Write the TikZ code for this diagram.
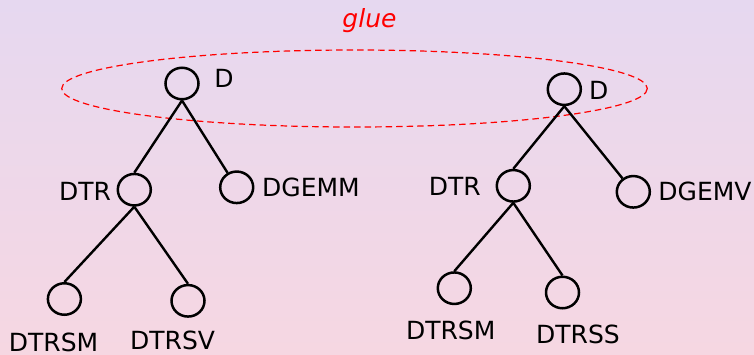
\documentclass[tikz,border=0pt]{standalone}
\usepackage{fontspec}
\setmainfont{DejaVu Sans}
\usetikzlibrary{shapes.geometric}
\definecolor{bgtop}{RGB}{230,216,240}
\definecolor{bgbottom}{RGB}{246,215,226}
\definecolor{gluered}{RGB}{255,0,0}
\begin{document}
\begin{tikzpicture}[x=1pt,y=-1pt,
  treenode/.style={ellipse,draw=black,line width=2.5pt,minimum width=33pt,minimum height=31.5pt,inner sep=0pt},
  lbl/.style={inner sep=0pt,font=\fontsize{25}{30}\selectfont,text=black},
  edge/.style={draw=black,line width=2.4pt},
  glueline/.style={draw=gluered,line width=1.2pt,dash pattern=on 6.5pt off 4pt}]
  % background
  \useasboundingbox (0,0) rectangle (754,354);
  \shade[top color=bgtop,bottom color=bgbottom] (0,0) rectangle (754,354);

  % glue region
  \draw[glueline] (354.5,88.5) ellipse [x radius=292.8, y radius=38.5];
  \node[lbl,anchor=base,text=gluered,font=\fontsize{25}{30}\selectfont\itshape] (glue) at (369.5,27) {glue};

  % left tree
  \node[treenode] (lroot)  at (182,83.5) {};
  \node[treenode] (ldtr)   at (134.3,189.7) {};
  \node[treenode] (ldgemm) at (236.7,187.3) {};
  \node[treenode] (ldtrsm) at (64.4,299) {};
  \node[treenode] (ldtrsv) at (188,300.8) {};

  \node[lbl] (lrootlbl)  at (224,78.3) {D};
  \node[lbl] (ldtrlbl)   at (85,191.2) {DTR};
  \node[lbl] (ldgemmlbl) at (311,187.7) {DGEMM};
  \node[lbl] (ldtrsmlbl) at (53.6,342.6) {DTRSM};
  \node[lbl] (ldtrsvlbl) at (172.6,340.3) {DTRSV};

  \draw[edge] (lroot.south) -- (ldtr.north);
  \draw[edge] (lroot.south) -- (ldgemm);
  \draw[edge] (ldtr.south) -- (ldtrsm.north);
  \draw[edge] (ldtr.south) -- (ldtrsv.north);

  % right tree
  \node[treenode] (rroot)  at (564.3,89.2) {};
  \node[treenode] (rdtr)   at (513.3,185.8) {};
  \node[treenode] (rdgemv) at (633.3,191.8) {};
  \node[treenode] (rdtrsm) at (454.3,288.2) {};
  \node[treenode] (rdtrss) at (562.5,292.5) {};

  \node[lbl] (rrootlbl)  at (598.7,90.8) {D};
  \node[lbl] (rdtrlbl)   at (454.7,186.7) {DTR};
  \node[lbl] (rdgemvlbl) at (705,191.7) {DGEMV};
  \node[lbl] (rdtrsmlbl) at (450.7,330) {DTRSM};
  \node[lbl] (rdtrsslbl) at (578,334) {DTRSS};

  \draw[edge] (rroot.south) -- (rdtr.north);
  \draw[edge] (rroot.south) -- (rdgemv);
  \draw[edge] (rdtr.south) -- (rdtrsm.north);
  \draw[edge] (rdtr.south) -- (rdtrss.north);
\end{tikzpicture}
\end{document}
